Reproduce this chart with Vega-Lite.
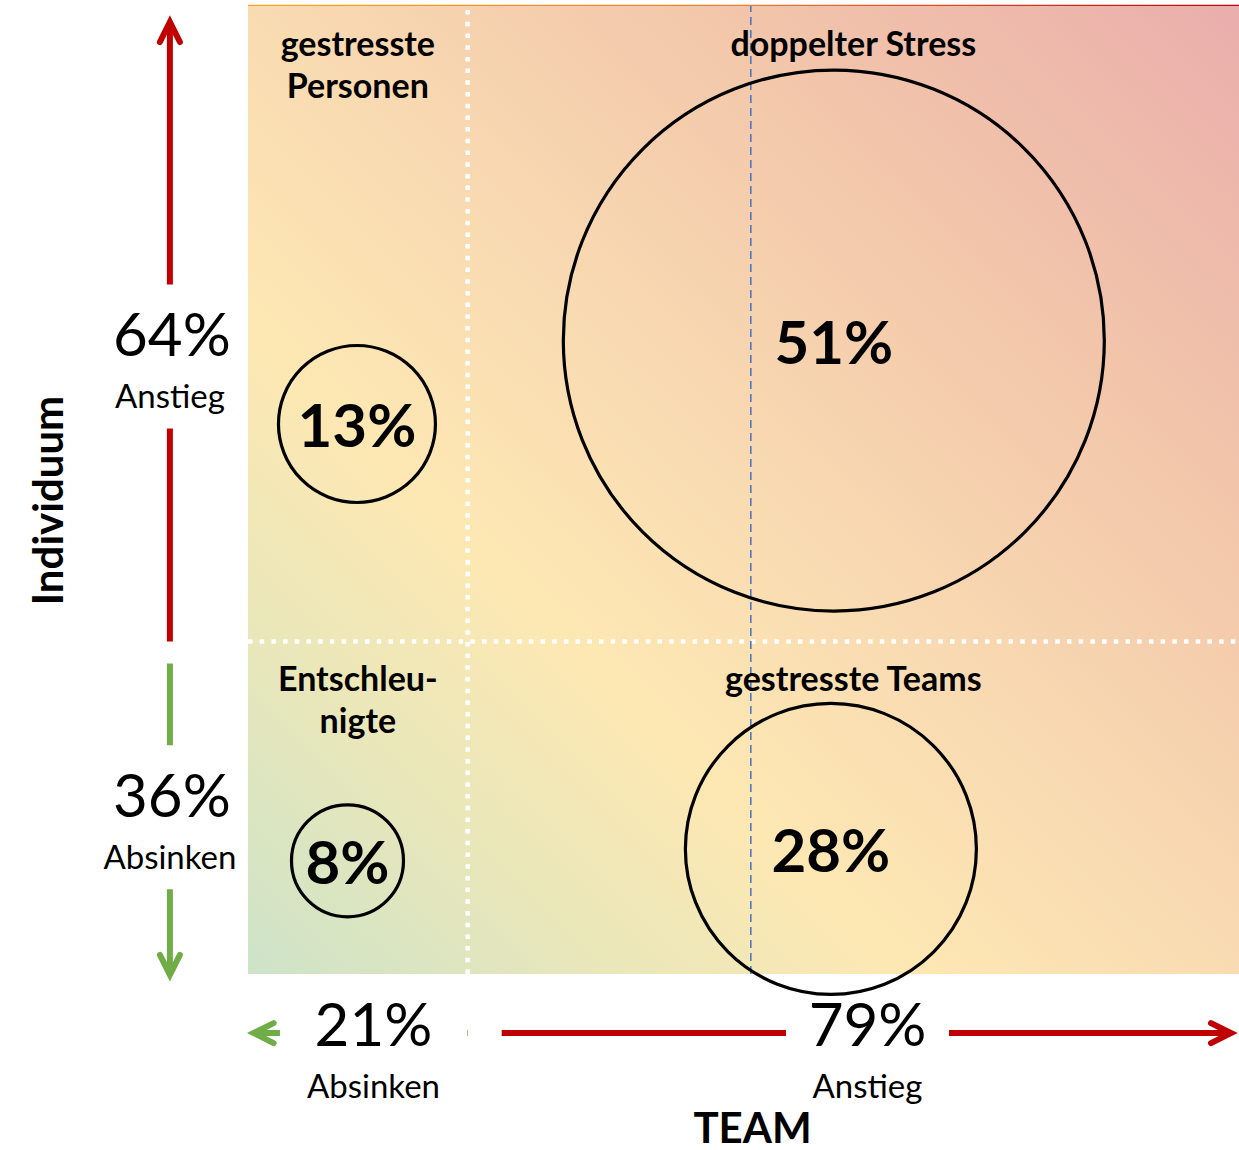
{
  "$schema": "https://vega.github.io/schema/vega-lite/v6.json",
  "description": "Vier-Felder-Diagramm: Stressentwicklung bei Individuen und Teams",
  "width": 991,
  "height": 968,
  "autosize": {"type": "none"},
  "padding": {"left": 248, "top": 6, "right": 0, "bottom": 176},
  "background": "#ffffff",
  "config": {
    "view": {"stroke": null},
    "font": "Lato",
    "text": {"font": "Lato", "color": "#000000"},
    "axisX": {"domain": false, "ticks": false, "labels": false, "grid": false, "titleFont": "Lato", "titleFontSize": 42, "titleFontWeight": "bold", "titleColor": "#000000", "titleAlign": "center", "titleBaseline": "alphabetic", "titleX": 504, "titleY": 168},
    "axisY": {"domain": false, "ticks": false, "labels": false, "grid": false, "titleFont": "Lato", "titleFontSize": 42, "titleFontWeight": "bold", "titleColor": "#000000", "titleAngle": -90, "titleAlign": "center", "titleBaseline": "alphabetic", "titleX": -186, "titleY": 494}
  },
  "datasets": {
    "felder": [
      {"feld": "gestresste Personen", "titel": ["gestresste", "Personen"], "anteil": 0.13, "team": 9.66, "indiv": 57.9, "titel_team": 9.75, "titel_indiv": 100},
      {"feld": "doppelter Stress", "titel": ["doppelter Stress"], "anteil": 0.51, "team": 58.5, "indiv": 66.3, "titel_team": 60.5, "titel_indiv": 100},
      {"feld": "Entschleunigte", "titel": ["Entschleu-", "nigte"], "anteil": 0.08, "team": 8.69, "indiv": 13.9, "titel_team": 9.75, "titel_indiv": 36},
      {"feld": "gestresste Teams", "titel": ["gestresste Teams"], "anteil": 0.28, "team": 58.2, "indiv": 15.1, "titel_team": 60.5, "titel_indiv": 36}
    ],
    "pfeile": [
      {"achse": "Individuum", "richtung": "Anstieg", "anteil": 0.64, "von": 36, "bis": 100, "mitte": 64.7},
      {"achse": "Individuum", "richtung": "Absinken", "anteil": 0.36, "von": 36, "bis": 0, "mitte": 18.3},
      {"achse": "TEAM", "richtung": "Absinken", "anteil": 0.21, "von": 21, "bis": 0, "mitte": 11.35},
      {"achse": "TEAM", "richtung": "Anstieg", "anteil": 0.79, "von": 21, "bis": 100, "mitte": 61.95}
    ],
    "grenzen": [
      {"achse": "TEAM", "wert": 21},
      {"achse": "Individuum", "wert": 36}
    ]
  },
  "layer": [
    {
      "data": {"values": [{}]},
      "mark": {"type": "rect", "fill": {"gradient": "linear", "x1": 0, "y1": 1, "x2": 1, "y2": 0, "stops": [
        {"offset": 0, "color": "#cde3c8"},
        {"offset": 0.18, "color": "#e9e7ba"},
        {"offset": 0.33, "color": "#fde8b3"},
        {"offset": 0.5, "color": "#f9dbb2"},
        {"offset": 0.75, "color": "#f2c5aa"},
        {"offset": 1, "color": "#eaaeac"}
      ]}},
      "encoding": {
        "x": {"datum": -1.5, "type": "quantitative", "scale": {"domain": [-1.5, 100], "nice": false, "zero": false}},
        "x2": {"datum": 100},
        "y": {"datum": 2.5, "type": "quantitative", "scale": {"domain": [2.5, 100], "nice": false, "zero": false}},
        "y2": {"datum": 100}
      }
    },
    {
      "data": {"values": [{}]},
      "mark": {"type": "rect", "fill": {"gradient": "linear", "x1": 0, "y1": 0, "x2": 1, "y2": 0, "stops": [
        {"offset": 0, "color": "#f5a623"},
        {"offset": 0.5, "color": "#ee7b30"},
        {"offset": 1, "color": "#c00000"}
      ]}},
      "encoding": {
        "x": {"datum": -1.5, "type": "quantitative", "scale": {"domain": [-1.5, 100], "nice": false, "zero": false}},
        "x2": {"datum": 100},
        "y": {"datum": 100, "type": "quantitative", "scale": {"domain": [2.5, 100], "nice": false, "zero": false}},
        "y2": {"datum": 100.12}
      }
    },
    {
      "data": {"name": "grenzen"},
      "transform": [{"filter": "datum.achse === 'TEAM'"}],
      "mark": {"type": "rule", "color": "#ffffff", "strokeWidth": 4.5, "strokeDash": [4.5, 7.2]},
      "encoding": {
        "x": {"field": "wert", "type": "quantitative", "scale": {"domain": [-1.5, 100], "nice": false, "zero": false}},
        "y": {"datum": 2.5, "type": "quantitative", "scale": {"domain": [2.5, 100], "nice": false, "zero": false}},
        "y2": {"datum": 100}
      }
    },
    {
      "data": {"name": "grenzen"},
      "transform": [{"filter": "datum.achse === 'Individuum'"}],
      "mark": {"type": "rule", "color": "#ffffff", "strokeWidth": 4.5, "strokeDash": [4.5, 7.2]},
      "encoding": {
        "x": {"datum": -1.5, "type": "quantitative", "scale": {"domain": [-1.5, 100], "nice": false, "zero": false}},
        "x2": {"datum": 100},
        "y": {"field": "wert", "type": "quantitative", "scale": {"domain": [2.5, 100], "nice": false, "zero": false}}
      }
    },
    {
      "data": {"values": [{}]},
      "mark": {"type": "rule", "color": "#4472c4", "strokeWidth": 1.5, "strokeDash": [8, 5]},
      "encoding": {
        "x": {"datum": 50, "type": "quantitative", "scale": {"domain": [-1.5, 100], "nice": false, "zero": false}},
        "y": {"datum": 2.5, "type": "quantitative", "scale": {"domain": [2.5, 100], "nice": false, "zero": false}},
        "y2": {"datum": 100}
      }
    },
    {
      "data": {"name": "felder"},
      "mark": {"type": "point", "shape": "circle", "filled": false, "color": "#000000", "stroke": "#000000", "strokeWidth": 3.2, "opacity": 1},
      "encoding": {
        "x": {"field": "team", "type": "quantitative", "scale": {"domain": [-1.5, 100], "nice": false, "zero": false},
          "axis": {"title": "TEAM", "titleX": 504, "titleY": 168}},
        "y": {"field": "indiv", "type": "quantitative", "scale": {"domain": [2.5, 100], "nice": false, "zero": false},
          "axis": {"title": "Individuum", "titleX": -186, "titleY": 494}},
        "size": {"field": "anteil", "type": "quantitative", "scale": {"type": "linear", "domain": [0.08, 0.13, 0.28, 0.51], "range": [12544, 24649, 84681, 292681], "zero": false, "nice": false}, "legend": null}
      }
    },
    {
      "data": {"name": "felder"},
      "mark": {"type": "text", "font": "Lato", "fontSize": 60, "fontWeight": "bold", "align": "center", "baseline": "alphabetic", "dy": 23, "color": "#000000"},
      "encoding": {
        "x": {"field": "team", "type": "quantitative", "scale": {"domain": [-1.5, 100], "nice": false, "zero": false}},
        "y": {"field": "indiv", "type": "quantitative", "scale": {"domain": [2.5, 100], "nice": false, "zero": false}},
        "text": {"field": "anteil", "type": "quantitative", "format": ".0%"}
      }
    },
    {
      "data": {"name": "felder"},
      "mark": {"type": "text", "font": "Lato", "fontSize": 34, "fontWeight": "bold", "align": "center", "baseline": "alphabetic", "dy": 50, "lineHeight": 42, "color": "#000000"},
      "encoding": {
        "x": {"field": "titel_team", "type": "quantitative", "scale": {"domain": [-1.5, 100], "nice": false, "zero": false}},
        "y": {"field": "titel_indiv", "type": "quantitative", "scale": {"domain": [2.5, 100], "nice": false, "zero": false}},
        "text": {"field": "titel"}
      }
    },
    {
      "data": {"name": "pfeile"},
      "transform": [{"filter": "datum.achse === 'Individuum' && datum.richtung === 'Anstieg'"}],
      "mark": {"type": "rule", "strokeWidth": 6, "y2Offset": 16},
      "encoding": {
        "x": {"datum": -9.5, "type": "quantitative", "scale": {"domain": [-1.5, 100], "nice": false, "zero": false}},
        "y": {"field": "von", "type": "quantitative", "scale": {"domain": [2.5, 100], "nice": false, "zero": false}},
        "y2": {"field": "bis"},
        "color": {"field": "richtung", "type": "nominal", "scale": {"domain": ["Anstieg", "Absinken"], "range": ["#c00000", "#70ad47"]}, "legend": null}
      }
    },
    {
      "data": {"name": "pfeile"},
      "transform": [{"filter": "datum.achse === 'Individuum' && datum.richtung === 'Absinken'"}],
      "mark": {"type": "rule", "strokeWidth": 6, "yOffset": 22, "y2Offset": -24},
      "encoding": {
        "x": {"datum": -9.5, "type": "quantitative", "scale": {"domain": [-1.5, 100], "nice": false, "zero": false}},
        "y": {"field": "von", "type": "quantitative", "scale": {"domain": [2.5, 100], "nice": false, "zero": false}},
        "y2": {"field": "bis"},
        "color": {"field": "richtung", "type": "nominal", "legend": null}
      }
    },
    {
      "data": {"name": "pfeile"},
      "transform": [{"filter": "datum.achse === 'TEAM' && datum.richtung === 'Absinken'"}],
      "mark": {"type": "rule", "strokeWidth": 6, "x2Offset": -9},
      "encoding": {
        "x": {"field": "von", "type": "quantitative", "scale": {"domain": [-1.5, 100], "nice": false, "zero": false}},
        "x2": {"field": "bis"},
        "y": {"datum": -3.45, "type": "quantitative", "scale": {"domain": [2.5, 100], "nice": false, "zero": false}},
        "color": {"field": "richtung", "type": "nominal", "legend": null}
      }
    },
    {
      "data": {"name": "pfeile"},
      "transform": [{"filter": "datum.achse === 'TEAM' && datum.richtung === 'Anstieg'"}],
      "mark": {"type": "rule", "strokeWidth": 6, "xOffset": 34, "x2Offset": -8},
      "encoding": {
        "x": {"field": "von", "type": "quantitative", "scale": {"domain": [-1.5, 100], "nice": false, "zero": false}},
        "x2": {"field": "bis"},
        "y": {"datum": -3.45, "type": "quantitative", "scale": {"domain": [2.5, 100], "nice": false, "zero": false}},
        "color": {"field": "richtung", "type": "nominal", "legend": null}
      }
    },
    {
      "data": {"name": "pfeile"},
      "transform": [{"filter": "datum.achse === 'Individuum'"}],
      "mark": {"type": "point", "shape": "M-0.1,-1L0.1,-1L0.1,1L-0.1,1Z", "size": 20736, "filled": true, "color": "#ffffff", "strokeWidth": 0, "opacity": 1},
      "encoding": {
        "x": {"datum": -9.5, "type": "quantitative", "scale": {"domain": [-1.5, 100], "nice": false, "zero": false}},
        "y": {"field": "mitte", "type": "quantitative", "scale": {"domain": [2.5, 100], "nice": false, "zero": false}}
      }
    },
    {
      "data": {"name": "pfeile"},
      "transform": [{"filter": "datum.achse === 'TEAM' && datum.richtung === 'Absinken'"}],
      "mark": {"type": "point", "shape": "M-1,-0.1L1,-0.1L1,0.1L-1,0.1Z", "size": 34969, "filled": true, "color": "#ffffff", "strokeWidth": 0, "opacity": 1},
      "encoding": {
        "x": {"field": "mitte", "type": "quantitative", "scale": {"domain": [-1.5, 100], "nice": false, "zero": false}},
        "y": {"datum": -3.45, "type": "quantitative", "scale": {"domain": [2.5, 100], "nice": false, "zero": false}}
      }
    },
    {
      "data": {"name": "pfeile"},
      "transform": [{"filter": "datum.achse === 'TEAM' && datum.richtung === 'Anstieg'"}],
      "mark": {"type": "point", "shape": "M-1,-0.1L1,-0.1L1,0.1L-1,0.1Z", "size": 26569, "filled": true, "color": "#ffffff", "strokeWidth": 0, "opacity": 1},
      "encoding": {
        "x": {"field": "mitte", "type": "quantitative", "scale": {"domain": [-1.5, 100], "nice": false, "zero": false}},
        "y": {"datum": -3.45, "type": "quantitative", "scale": {"domain": [2.5, 100], "nice": false, "zero": false}}
      }
    },
    {
      "data": {"name": "pfeile"},
      "transform": [{"filter": "datum.achse === 'Individuum' && datum.richtung === 'Anstieg'"}],
      "mark": {"type": "point", "shape": "M-0.5,1L0,0L0.5,1", "size": 1600, "filled": false, "strokeWidth": 6, "strokeCap": "round", "strokeJoin": "miter", "opacity": 1, "yOffset": 16},
      "encoding": {
        "x": {"datum": -9.5, "type": "quantitative", "scale": {"domain": [-1.5, 100], "nice": false, "zero": false}},
        "y": {"field": "bis", "type": "quantitative", "scale": {"domain": [2.5, 100], "nice": false, "zero": false}},
        "color": {"field": "richtung", "type": "nominal", "legend": null}
      }
    },
    {
      "data": {"name": "pfeile"},
      "transform": [{"filter": "datum.achse === 'Individuum' && datum.richtung === 'Absinken'"}],
      "mark": {"type": "point", "shape": "M-0.5,-1L0,0L0.5,-1", "size": 1600, "filled": false, "strokeWidth": 6, "strokeCap": "round", "strokeJoin": "miter", "opacity": 1, "yOffset": -24},
      "encoding": {
        "x": {"datum": -9.5, "type": "quantitative", "scale": {"domain": [-1.5, 100], "nice": false, "zero": false}},
        "y": {"field": "bis", "type": "quantitative", "scale": {"domain": [2.5, 100], "nice": false, "zero": false}},
        "color": {"field": "richtung", "type": "nominal", "legend": null}
      }
    },
    {
      "data": {"name": "pfeile"},
      "transform": [{"filter": "datum.achse === 'TEAM' && datum.richtung === 'Absinken'"}],
      "mark": {"type": "point", "shape": "M1,-0.5L0,0L1,0.5", "size": 1600, "filled": false, "strokeWidth": 6, "strokeCap": "round", "strokeJoin": "miter", "opacity": 1, "xOffset": -9},
      "encoding": {
        "x": {"field": "bis", "type": "quantitative", "scale": {"domain": [-1.5, 100], "nice": false, "zero": false}},
        "y": {"datum": -3.45, "type": "quantitative", "scale": {"domain": [2.5, 100], "nice": false, "zero": false}},
        "color": {"field": "richtung", "type": "nominal", "legend": null}
      }
    },
    {
      "data": {"name": "pfeile"},
      "transform": [{"filter": "datum.achse === 'TEAM' && datum.richtung === 'Anstieg'"}],
      "mark": {"type": "point", "shape": "M-1,-0.5L0,0L-1,0.5", "size": 1600, "filled": false, "strokeWidth": 6, "strokeCap": "round", "strokeJoin": "miter", "opacity": 1, "xOffset": -8},
      "encoding": {
        "x": {"field": "bis", "type": "quantitative", "scale": {"domain": [-1.5, 100], "nice": false, "zero": false}},
        "y": {"datum": -3.45, "type": "quantitative", "scale": {"domain": [2.5, 100], "nice": false, "zero": false}},
        "color": {"field": "richtung", "type": "nominal", "legend": null}
      }
    },
    {
      "data": {"name": "pfeile"},
      "transform": [{"filter": "datum.achse === 'Individuum'"}],
      "mark": {"type": "text", "font": "Lato", "fontSize": 60, "align": "center", "baseline": "alphabetic", "dx": 2, "dy": 0, "color": "#000000"},
      "encoding": {
        "x": {"datum": -9.5, "type": "quantitative", "scale": {"domain": [-1.5, 100], "nice": false, "zero": false}},
        "y": {"field": "mitte", "type": "quantitative", "scale": {"domain": [2.5, 100], "nice": false, "zero": false}},
        "text": {"field": "anteil", "type": "quantitative", "format": ".0%"}
      }
    },
    {
      "data": {"name": "pfeile"},
      "transform": [{"filter": "datum.achse === 'Individuum'"}],
      "mark": {"type": "text", "font": "Lato", "fontSize": 33, "align": "center", "baseline": "alphabetic", "dx": 0, "dy": 52, "color": "#000000"},
      "encoding": {
        "x": {"datum": -9.5, "type": "quantitative", "scale": {"domain": [-1.5, 100], "nice": false, "zero": false}},
        "y": {"field": "mitte", "type": "quantitative", "scale": {"domain": [2.5, 100], "nice": false, "zero": false}},
        "text": {"field": "richtung", "type": "nominal"}
      }
    },
    {
      "data": {"name": "pfeile"},
      "transform": [{"filter": "datum.achse === 'TEAM'"}],
      "mark": {"type": "text", "font": "Lato", "fontSize": 60, "align": "center", "baseline": "alphabetic", "dy": 13, "color": "#000000"},
      "encoding": {
        "x": {"field": "mitte", "type": "quantitative", "scale": {"domain": [-1.5, 100], "nice": false, "zero": false}},
        "y": {"datum": -3.45, "type": "quantitative", "scale": {"domain": [2.5, 100], "nice": false, "zero": false}},
        "text": {"field": "anteil", "type": "quantitative", "format": ".0%"}
      }
    },
    {
      "data": {"name": "pfeile"},
      "transform": [{"filter": "datum.achse === 'TEAM'"}],
      "mark": {"type": "text", "font": "Lato", "fontSize": 33, "align": "center", "baseline": "alphabetic", "dy": 65, "color": "#000000"},
      "encoding": {
        "x": {"field": "mitte", "type": "quantitative", "scale": {"domain": [-1.5, 100], "nice": false, "zero": false}},
        "y": {"datum": -3.45, "type": "quantitative", "scale": {"domain": [2.5, 100], "nice": false, "zero": false}},
        "text": {"field": "richtung", "type": "nominal"}
      }
    }
  ]
}
